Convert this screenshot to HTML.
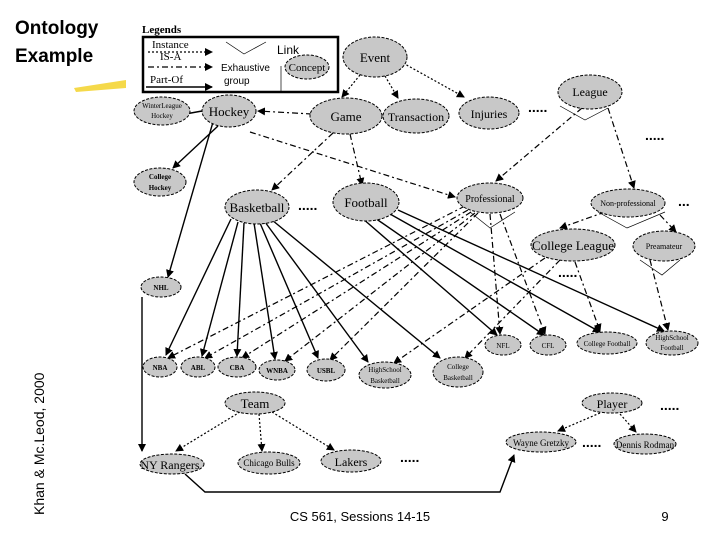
<!DOCTYPE html>
<html><head><meta charset="utf-8"><style>
body{margin:0;background:#fff;}
svg{display:block;}
.n{fill:#c8c8c8;stroke:#000;stroke-width:1;stroke-dasharray:3 1.5}
.t{font-family:"Liberation Serif",serif;fill:#000;text-anchor:middle;}
.s{stroke:#000;stroke-width:1.4;fill:none;marker-end:url(#a)}
.d{stroke:#000;stroke-width:1.2;fill:none;stroke-dasharray:6 3 2 3;marker-end:url(#a)}
.o{stroke:#000;stroke-width:1.2;fill:none;stroke-dasharray:2 2;marker-end:url(#a)}
.dots{font-family:"Liberation Sans",sans-serif;font-size:14px;font-weight:bold;}
</style></head><body>
<svg width="720" height="540" viewBox="0 0 720 540" xmlns="http://www.w3.org/2000/svg">
<defs><marker id="a" markerWidth="8" markerHeight="8" refX="7" refY="4" orient="auto" markerUnits="userSpaceOnUse"><path d="M0,0 L8,4 L0,8 z" fill="#000"/></marker></defs>
<text x="15" y="34" font-family="Liberation Sans,sans-serif" font-weight="bold" font-size="19">Ontology</text>
<text x="15" y="62" font-family="Liberation Sans,sans-serif" font-weight="bold" font-size="19">Example</text>
<path d="M74,88 L126,80 L126,88 L76,92 z" fill="#f5d94a"/>
<text transform="translate(44,515) rotate(-90)" font-family="Liberation Sans,sans-serif" font-size="14">Khan &amp; Mc.Leod, 2000</text>
<text x="360" y="521" font-family="Liberation Sans,sans-serif" font-size="13" text-anchor="middle">CS 561,  Sessions 14-15</text>
<text x="665" y="521" font-family="Liberation Sans,sans-serif" font-size="13" text-anchor="middle">9</text>

<!-- legend -->
<text x="142" y="33" class="t" style="text-anchor:start;font-size:11px;font-weight:bold">Legends</text>
<rect x="143" y="37" width="195" height="55" fill="none" stroke="#000" stroke-width="2.5"/>
<text x="152" y="48" class="t" style="text-anchor:start;font-size:11px">Instance</text>
<line x1="148" y1="52" x2="212" y2="52" class="o"/>
<text x="160" y="60" class="t" style="text-anchor:start;font-size:11px">IS-A</text>
<line x1="148" y1="67" x2="212" y2="67" class="d"/>
<text x="150" y="83" class="t" style="text-anchor:start;font-size:11px">Part-Of</text>
<line x1="146" y1="87" x2="212" y2="87" class="s"/>
<path d="M226,42 L244,54 L266,42" fill="none" stroke="#000" stroke-width=".7"/>
<text x="221" y="71" font-family="Liberation Sans,sans-serif" font-size="10">Exhaustive</text>
<text x="224" y="84" font-family="Liberation Sans,sans-serif" font-size="10">group</text>
<text x="277" y="54" font-family="Liberation Sans,sans-serif" font-size="12">Link</text>
<line x1="281" y1="66" x2="281" y2="92" stroke="#000" stroke-width=".7"/>
<ellipse cx="307" cy="67" rx="22" ry="12" class="n"/><text x="307" y="71" class="t" font-size="11">Concept</text>

<!-- edges -->
<g>
<line x1="360" y1="75" x2="342" y2="97" class="o"/>
<line x1="385" y1="76" x2="398" y2="98" class="o"/>
<line x1="403" y1="63" x2="464" y2="97" class="o"/>
<line x1="312" y1="114" x2="258" y2="111" class="d"/>
<line x1="333" y1="133" x2="272" y2="190" class="d"/>
<line x1="350" y1="134" x2="362" y2="185" class="d"/>
<line x1="250" y1="132" x2="455" y2="197" class="d"/>
<line x1="582" y1="108" x2="496" y2="181" class="d"/>
<line x1="608" y1="108" x2="634" y2="188" class="d"/>
<line x1="605" y1="212" x2="560" y2="228" class="d"/>
<line x1="660" y1="215" x2="676" y2="232" class="d"/>
<line x1="202" y1="111" x2="180" y2="115" class="s"/>
<line x1="218" y1="126" x2="173" y2="168" class="s"/>
<line x1="213" y1="122" x2="168" y2="277" class="s"/>
<line x1="142" y1="297" x2="142" y2="451" class="s"/>
<polyline points="185,474 205,492 500,492 514,455" class="s"/>
<line x1="231" y1="219" x2="166" y2="355" class="s"/>
<line x1="238" y1="222" x2="202" y2="356" class="s"/>
<line x1="244" y1="223" x2="237" y2="356" class="s"/>
<line x1="254" y1="223" x2="275" y2="359" class="s"/>
<line x1="260" y1="223" x2="318" y2="358" class="s"/>
<line x1="265" y1="222" x2="368" y2="362" class="s"/>
<line x1="272" y1="220" x2="440" y2="358" class="s"/>
<line x1="362" y1="218" x2="497" y2="335" class="s"/>
<line x1="375" y1="218" x2="544" y2="335" class="s"/>
<line x1="390" y1="214" x2="600" y2="332" class="s"/>
<line x1="398" y1="210" x2="664" y2="331" class="s"/>
<line x1="465" y1="206" x2="168" y2="358" class="d"/>
<line x1="468" y1="210" x2="205" y2="358" class="d"/>
<line x1="471" y1="212" x2="242" y2="358" class="d"/>
<line x1="475" y1="213" x2="285" y2="361" class="d"/>
<line x1="478" y1="213" x2="330" y2="360" class="d"/>
<line x1="490" y1="214" x2="500" y2="334" class="d"/>
<line x1="500" y1="214" x2="545" y2="334" class="d"/>
<line x1="545" y1="258" x2="394" y2="363" class="d"/>
<line x1="560" y1="260" x2="465" y2="358" class="d"/>
<line x1="575" y1="262" x2="600" y2="331" class="d"/>
<line x1="650" y1="260" x2="668" y2="330" class="d"/>
<line x1="240" y1="412" x2="176" y2="451" class="o"/>
<line x1="259" y1="414" x2="262" y2="451" class="o"/>
<line x1="272" y1="412" x2="334" y2="450" class="o"/>
<line x1="600" y1="413" x2="558" y2="431" class="o"/>
<line x1="620" y1="414" x2="636" y2="432" class="o"/>
</g>
<!-- exhaustive group marks -->
<path d="M560,106 L585,120 L608,108" fill="none" stroke="#000" stroke-width=".7"/>
<path d="M470,212 L490,228 L515,212" fill="none" stroke="#000" stroke-width=".7"/>
<path d="M598,212 L627,228 L665,212" fill="none" stroke="#000" stroke-width=".7"/>
<path d="M640,260 L662,275 L680,260" fill="none" stroke="#000" stroke-width=".7"/>

<!-- nodes -->
<g>
<ellipse cx="375" cy="57" rx="32" ry="20" class="n"/><text x="375" y="62" class="t" font-size="13">Event</text>
<ellipse cx="590" cy="92" rx="32" ry="17" class="n"/><text x="590" y="96" class="t" font-size="12">League</text>
<ellipse cx="162" cy="111" rx="28" ry="14" class="n"/><text x="162" y="108" class="t" font-size="7">WinterLeague</text><text x="162" y="118" class="t" font-size="7">Hockey</text>
<ellipse cx="229" cy="111" rx="27" ry="16" class="n"/><text x="229" y="116" class="t" font-size="13">Hockey</text>
<ellipse cx="346" cy="116" rx="36" ry="18" class="n"/><text x="346" y="121" class="t" font-size="13">Game</text>
<ellipse cx="416" cy="116" rx="33" ry="17" class="n"/><text x="416" y="121" class="t" font-size="12">Transaction</text>
<ellipse cx="489" cy="113" rx="30" ry="16" class="n"/><text x="489" y="118" class="t" font-size="12">Injuries</text>
<ellipse cx="160" cy="182" rx="26" ry="14" class="n"/><text x="160" y="179" class="t" font-size="7" font-weight="bold">College</text><text x="160" y="190" class="t" font-size="7" font-weight="bold">Hockey</text>
<ellipse cx="257" cy="207" rx="32" ry="17" class="n"/><text x="257" y="212" class="t" font-size="13">Basketball</text>
<ellipse cx="366" cy="202" rx="33" ry="19" class="n"/><text x="366" y="207" class="t" font-size="13">Football</text>
<ellipse cx="490" cy="198" rx="33" ry="15" class="n"/><text x="490" y="202" class="t" font-size="10">Professional</text>
<ellipse cx="628" cy="203" rx="37" ry="14" class="n"/><text x="628" y="206" class="t" font-size="8">Non-professional</text>
<ellipse cx="573" cy="245" rx="42" ry="16" class="n"/><text x="573" y="250" class="t" font-size="13">College League</text>
<ellipse cx="664" cy="246" rx="31" ry="15" class="n"/><text x="664" y="249" class="t" font-size="8">Preamateur</text>
<ellipse cx="161" cy="287" rx="20" ry="10" class="n"/><text x="161" y="290" class="t" font-size="7" font-weight="bold">NHL</text>
<ellipse cx="160" cy="367" rx="17" ry="10" class="n"/><text x="160" y="370" class="t" font-size="7" font-weight="bold">NBA</text>
<ellipse cx="198" cy="367" rx="17" ry="10" class="n"/><text x="198" y="370" class="t" font-size="7" font-weight="bold">ABL</text>
<ellipse cx="237" cy="367" rx="19" ry="10" class="n"/><text x="237" y="370" class="t" font-size="7" font-weight="bold">CBA</text>
<ellipse cx="277" cy="370" rx="18" ry="10" class="n"/><text x="277" y="373" class="t" font-size="7" font-weight="bold">WNBA</text>
<ellipse cx="326" cy="370" rx="19" ry="11" class="n"/><text x="326" y="373" class="t" font-size="7" font-weight="bold">USBL</text>
<ellipse cx="385" cy="375" rx="26" ry="13" class="n"/><text x="385" y="372" class="t" font-size="7">HighSchool</text><text x="385" y="383" class="t" font-size="7">Basketball</text>
<ellipse cx="458" cy="372" rx="25" ry="15" class="n"/><text x="458" y="369" class="t" font-size="7">College</text><text x="458" y="380" class="t" font-size="7">Basketball</text>
<ellipse cx="503" cy="345" rx="18" ry="10" class="n"/><text x="503" y="348" class="t" font-size="7">NFL</text>
<ellipse cx="548" cy="345" rx="18" ry="10" class="n"/><text x="548" y="348" class="t" font-size="7">CFL</text>
<ellipse cx="607" cy="343" rx="30" ry="11" class="n"/><text x="607" y="346" class="t" font-size="7">College Football</text>
<ellipse cx="672" cy="343" rx="26" ry="12" class="n"/><text x="672" y="340" class="t" font-size="7">HighSchool</text><text x="672" y="350" class="t" font-size="7">Football</text>
<ellipse cx="255" cy="403" rx="30" ry="11" class="n"/><text x="255" y="408" class="t" font-size="13">Team</text>
<ellipse cx="612" cy="403" rx="30" ry="10" class="n"/><text x="612" y="408" class="t" font-size="12">Player</text>
<ellipse cx="172" cy="464" rx="32" ry="10" class="n"/><text x="170" y="469" class="t" font-size="12">NY Rangers</text>
<ellipse cx="269" cy="463" rx="31" ry="11" class="n"/><text x="269" y="466" class="t" font-size="9">Chicago Bulls</text>
<ellipse cx="351" cy="461" rx="30" ry="11" class="n"/><text x="351" y="466" class="t" font-size="12">Lakers</text>
<ellipse cx="541" cy="442" rx="35" ry="10" class="n"/><text x="541" y="446" class="t" font-size="9">Wayne Gretzky</text>
<ellipse cx="645" cy="444" rx="31" ry="10" class="n"/><text x="645" y="448" class="t" font-size="9">Dennis Rodman</text>
</g>
<g class="dots">
<text x="528" y="112">.....</text>
<text x="645" y="140">.....</text>
<text x="298" y="210">.....</text>
<text x="678" y="206">...</text>
<text x="558" y="277">.....</text>
<text x="400" y="462">.....</text>
<text x="582" y="447">.....</text>
<text x="660" y="410">.....</text>
<text x="250" y="278" font-size="0"> </text>
</g>
</svg>
</body></html>
